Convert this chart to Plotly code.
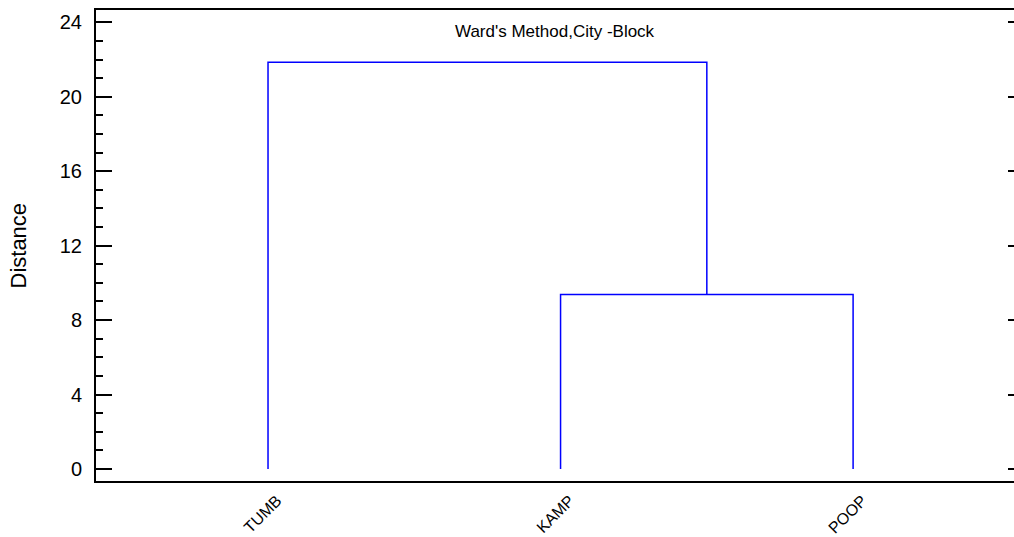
import plotly.graph_objects as go

# ---- data ----
leaf_labels = ["TUMB", "KAMP", "POOP"]
# merges: (left member, right member, distance); members: leaf label or "c<k>" for cluster k
merge_left = ["KAMP", "TUMB"]
merge_right = ["POOP", "c0"]
merge_height = [9.38, 21.85]
y_tick_vals = [0, 4, 8, 12, 16, 20, 24]
title_text = "Ward's Method,City -Block"
y_title = "Distance"

FONT = "Arial, Liberation Sans, sans-serif"

# positions of leaves on category axis
pos = {lab: i + 1 for i, lab in enumerate(leaf_labels)}
hgt = {lab: 0.0 for lab in leaf_labels}

xs, ys = [], []
for k, (a, b, h) in enumerate(zip(merge_left, merge_right, merge_height)):
    xa, xb = pos[a], pos[b]
    ya, yb = hgt[a], hgt[b]
    xs += [xa, xa, xb, xb, None]
    ys += [ya, h, h, yb, None]
    name = f"c{k}"
    pos[name] = (xa + xb) / 2
    hgt[name] = h

fig = go.Figure()
fig.add_trace(go.Scatter(x=xs, y=ys, mode="lines",
                         line=dict(color="#0000FF", width=1.5),
                         hoverinfo="skip", showlegend=False))
# invisible trace for right-side tick axis
fig.add_trace(go.Scatter(x=[1], y=[0], yaxis="y2", mode="markers",
                         marker=dict(opacity=0), hoverinfo="skip", showlegend=False))

yr = [-0.645, 24.66]
fig.update_layout(
    width=1014, height=537,
    margin=dict(l=96, r=0, t=10, b=56),
    paper_bgcolor="white", plot_bgcolor="white",
    font=dict(family=FONT, color="black"),
    xaxis=dict(range=[0.412, 3.55], tickvals=[1, 2, 3], ticktext=leaf_labels,
               tickangle=-45, ticks="", showgrid=False, zeroline=False,
               showline=True, linecolor="black", linewidth=2, mirror=True,
               ticklabelshift=9, ticklabelstandoff=2, automargin=False,
               tickfont=dict(size=16, family=FONT)),
    yaxis=dict(range=yr, tickvals=y_tick_vals, ticks="inside", ticklen=16,
               tickwidth=2, tickcolor="black", showgrid=False, zeroline=False,
               showline=True, linecolor="black", linewidth=2, mirror=False,
               automargin=False,
               tickfont=dict(size=20, family=FONT), ticklabelstandoff=8,
               minor=dict(dtick=1, ticks="inside", ticklen=7, tickwidth=2,
                          tickcolor="black", showgrid=False)),
    yaxis2=dict(range=yr, overlaying="y", side="right", tickvals=y_tick_vals,
                ticks="inside", ticklen=6, tickwidth=2, tickcolor="black",
                automargin=False,
                showticklabels=False, showline=False, showgrid=False, zeroline=False),
    annotations=[
        dict(text=title_text, xref="paper", yref="paper", x=0.5, y=0.955,
             xanchor="center", yanchor="middle", showarrow=False,
             font=dict(size=17, family=FONT)),
        dict(text=y_title, xref="paper", yref="paper", x=(18 - 96) / 918, y=0.5,
             xanchor="center", yanchor="middle", textangle=-90, showarrow=False,
             font=dict(size=22, family=FONT)),
    ],
)

fig.write_html("out.html", config={"displayModeBar": False},
               post_script="document.body.style.margin='0';document.body.style.padding='0';")
